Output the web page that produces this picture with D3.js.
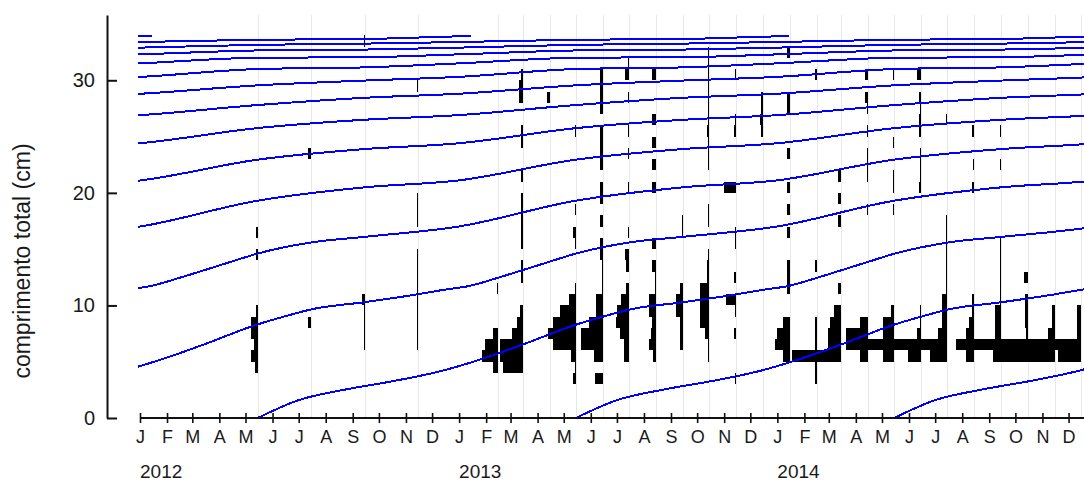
<!DOCTYPE html>
<html><head><meta charset="utf-8">
<script src="https://cdn.jsdelivr.net/npm/d3@7"></script>
<style>
body{margin:0;background:#fff}
svg{display:block}
text{font-family:"Liberation Sans",Arial,sans-serif;fill:#1a1a1a}
</style>
</head><body>
<svg id="c" width="1084" height="482"></svg>
<script>
// ---------- data ----------
const monthLetters = ["J","F","M","A","M","J","J","A","S","O","N","D"];
const yearLabels = ["2012","2013","2014"];
const yTicks = [0, 10, 20, 30];
const yTitle = "comprimento total (cm)";

// sampling dates (one length-frequency sample per date)
const sampleDates = [
  "2012-05-15","2012-07-15","2012-09-15","2012-11-15",
  "2013-02-15","2013-03-15","2013-04-15","2013-05-15","2013-06-15","2013-07-15",
  "2013-08-15","2013-09-15","2013-10-15","2013-11-15","2013-12-15",
  "2014-01-15","2014-02-15","2014-03-15","2014-04-15","2014-05-15","2014-06-15",
  "2014-07-15","2014-08-15","2014-09-15","2014-10-15","2014-11-15","2014-12-15"
];
// counts per 1-cm length class: [class lower bound (cm), count]
const sampleCounts = [
  [[4,2],[5,5],[6,3],[7,5],[8,5],[9,1],[14,1],[16,1]],
  [[8,2],[23,2]],
  [[6,1],[7,1],[8,1],[9,1],[10,2],[33,1]],
  [[6,1],[7,1],[8,1],[9,1],[10,1],[11,1],[12,1],[13,1],[14,1],[17,1],[18,1],[19,1],[29,1]],
  [[4,4],[5,12],[6,10],[7,4],[11,1]],
  [[4,15],[5,17],[6,17],[7,8],[8,4],[9,2],[12,1],[13,1],[15,1],[16,1],[17,1],[18,1],[19,1],[21,1],[24,1],[25,1],[28,3],[29,3],[30,1]],
  [[28,2]],
  [[3,2],[4,1],[5,4],[6,17],[7,21],[8,17],[9,12],[10,5],[11,1],[15,1],[16,2],[18,1],[25,1]],
  [[3,6],[5,7],[6,16],[7,16],[8,10],[9,5],[10,5],[11,1],[12,1],[13,1],[14,2],[15,2],[17,2],[19,2],[20,2],[22,2],[23,2],[24,2],[25,2],[27,2],[28,2],[29,2],[30,2]],
  [[5,4],[6,4],[7,7],[8,10],[9,9],[10,6],[11,2],[13,2],[14,3],[16,1],[20,1],[23,1],[25,1],[28,1],[30,3],[31,1]],
  [[5,2],[6,5],[7,4],[8,3],[9,5],[10,5],[11,1],[12,1],[13,3],[15,3],[20,3],[22,3],[24,3],[26,3],[30,3]],
  [[6,2],[7,2],[8,2],[9,5],[10,5],[11,2],[16,1],[17,1]],
  [[5,1],[6,1],[7,3],[8,7],[9,7],[10,7],[11,7],[12,2],[13,2],[14,1],[17,1],[18,1],[22,1],[23,1],[24,1],[25,2],[26,1],[27,1],[28,1],[29,1],[30,1],[31,1],[32,1]],
  [[3,1],[7,2],[9,1],[10,8],[12,2],[15,1],[16,1],[20,9],[25,2],[26,1],[30,1]],
  [[25,1],[26,2],[27,1],[28,1]],
  [[5,5],[6,11],[7,9],[8,5],[11,2],[12,2],[13,2],[16,2],[18,2],[20,2],[23,2],[27,2],[28,2],[32,2]],
  [[3,1],[4,1],[5,18],[6,1],[7,1],[8,1],[13,1],[30,1]],
  [[5,19],[6,10],[7,10],[8,8],[9,5],[11,2],[17,2],[19,2],[21,2]],
  [[5,6],[6,16],[7,16],[8,6],[18,1],[21,1],[22,1],[23,1],[25,1],[27,1],[28,2],[30,2]],
  [[5,8],[6,20],[7,8],[8,8],[9,2],[18,1],[20,1],[21,1],[24,1],[30,1]],
  [[5,10],[6,20],[7,3],[8,1],[9,1],[20,2],[21,1],[22,1],[23,1],[25,2],[26,2],[27,1],[28,2],[30,3]],
  [[5,13],[6,20],[7,7],[8,4],[9,4],[10,4],[11,1],[12,1],[13,1],[14,1],[15,1],[16,1],[17,1],[26,1]],
  [[5,6],[6,14],[7,6],[8,4],[9,2],[10,2],[20,2],[22,1],[25,2]],
  [[5,6],[6,20],[7,5],[8,5],[9,5],[10,1],[11,1],[12,1],[13,1],[14,1],[15,1],[22,1],[25,1]],
  [[5,20],[6,20],[7,1],[8,2],[9,2],[10,2],[12,3]],
  [[5,20],[6,20],[7,5],[8,2],[9,2]],
  [[5,17],[6,19],[7,3],[8,3],[9,3]]
];

// growth curve: length (cm) at age (years after the mid-May birth date)
const growthAge = [0,0.13,0.27,0.43,0.58,0.71,0.83,1.0,1.09,1.17,1.34,1.5,1.58,1.67,1.75,1.83,1.92,2.0,2.17,2.34,2.63,
  3.0,3.34,3.63,4.0,4.34,4.63,5.0,5.34,5.63,6.0,6.34,6.63,7.0,7.34,7.63,8.0,8.34,8.63,9.0,9.34,9.63,
  10.0,10.34,10.63,11.0,11.34,11.63,12.0,12.34,12.63,12.67];
const growthLength = [0,1.6,2.5,3.3,4.2,5.3,6.5,8.3,9.05,9.65,10.3,10.97,11.36,11.75,12.4,13.1,13.9,14.6,15.6,16.1,17.0,
  19.3,20.5,21.1,22.95,23.9,24.4,25.75,26.5,26.9,27.8,28.45,28.8,29.55,29.98,30.3,31.0,31.15,31.5,32.0,32.05,32.3,
  32.65,32.73,32.9,33.15,33.26,33.4,33.6,33.67,33.9,33.92];
// cohorts (birth dates, mid-May)
const cohortBirths = ["1999-05-15","2000-05-15","2001-05-15","2002-05-15","2003-05-15","2004-05-15","2005-05-15",
  "2006-05-15","2007-05-15","2008-05-15","2009-05-15","2010-05-15","2011-05-15","2012-05-15","2013-05-15","2014-05-15"];

// ---------- chart ----------
const parse = d3.utcParse("%Y-%m-%d");
const svg = d3.select("#c");
const x = d3.scaleUtc().domain([parse("2012-01-01"), parse("2015-01-01")]).range([140, 1095.6]);
const y = d3.scaleLinear().domain([0, 35.8]).range([418, 15]);
const wScale = d3.scaleLinear().domain([0, 20]).range([0, 27]);

svg.append("defs").append("clipPath").attr("id","plotclip")
  .append("rect").attr("x",138).attr("y",0).attr("width",960).attr("height",419);

// sample date lines
svg.append("g").selectAll("line").data(sampleDates).join("line")
  .attr("x1", d => Math.round(x(parse(d))) + 0.5).attr("x2", d => Math.round(x(parse(d))) + 0.5)
  .attr("y1", 15).attr("y2", 418)
  .attr("stroke", "#e8e8e8").attr("stroke-width", 1);

// histogram bars (drawn to the left of each sampling date)
const bars = [];
sampleDates.forEach((d, i) => {
  const dt = parse(d);
  sampleCounts[i].forEach(([bin, n]) => bars.push({dt, bin, n}));
});
svg.append("g").attr("shape-rendering","crispEdges").selectAll("rect").data(bars).join("rect")
  .attr("x", d => x(d.dt) - wScale(d.n))
  .attr("width", d => Math.max(1, wScale(d.n)))
  .attr("y", d => y(d.bin + 1))
  .attr("height", d => y(d.bin) - y(d.bin + 1))
  .attr("fill", "#000");

// growth curves
const dayMs = 864e5;
const line = d3.line().x(p => x(p[0])).y(p => y(p[1])).curve(d3.curveMonotoneX);
svg.append("g").attr("clip-path","url(#plotclip)").selectAll("path").data(cohortBirths).join("path")
  .attr("d", b => {
    const t0 = parse(b).getTime();
    return line(growthAge.map((a, k) => [new Date(t0 + a * 365.25 * dayMs), growthLength[k]]));
  })
  .attr("fill","none").attr("stroke","#0000ff").attr("stroke-width",2)
  .attr("shape-rendering","crispEdges");

// y axis
const yAxis = d3.axisLeft(y).tickValues(yTicks).tickSizeInner(-10).tickSizeOuter(0).tickPadding(12);
const gy = svg.append("g").attr("transform","translate(107,0)").call(yAxis);
gy.select(".domain").attr("stroke","#111").attr("stroke-width",2);
gy.selectAll(".tick line").attr("stroke","#111").attr("stroke-width",2);
gy.selectAll(".tick text").attr("font-size",20).attr("fill","#1a1a1a")
  .attr("font-family","'Liberation Sans',Arial,sans-serif");

svg.append("text").attr("transform","translate(30,261) rotate(-90)")
  .attr("text-anchor","middle").attr("font-size",23).text(yTitle);

// x axis
svg.append("line").attr("x1",140).attr("x2",1084).attr("y1",418).attr("y2",418)
  .attr("stroke","#111").attr("stroke-width",2);
const xAxis = d3.axisBottom(x).ticks(d3.utcMonth.every(1))
  .tickFormat(d => monthLetters[d.getUTCMonth()]).tickSize(10).tickPadding(7);
const gx = svg.append("g").attr("transform","translate(0,413)").call(xAxis);
gx.select(".domain").remove();
gx.selectAll(".tick").filter(d => d >= parse("2015-01-01")).remove();
gx.selectAll(".tick line").attr("stroke","#111").attr("stroke-width",1.6);
gx.selectAll(".tick text").attr("font-size",18).attr("fill","#1a1a1a")
  .attr("font-family","'Liberation Sans',Arial,sans-serif");

svg.append("g").selectAll("text").data(yearLabels).join("text")
  .attr("x", d => x(parse(d + "-01-01"))).attr("y", 478)
  .attr("font-size", 19).text(d => d);
</script>
</body></html>
